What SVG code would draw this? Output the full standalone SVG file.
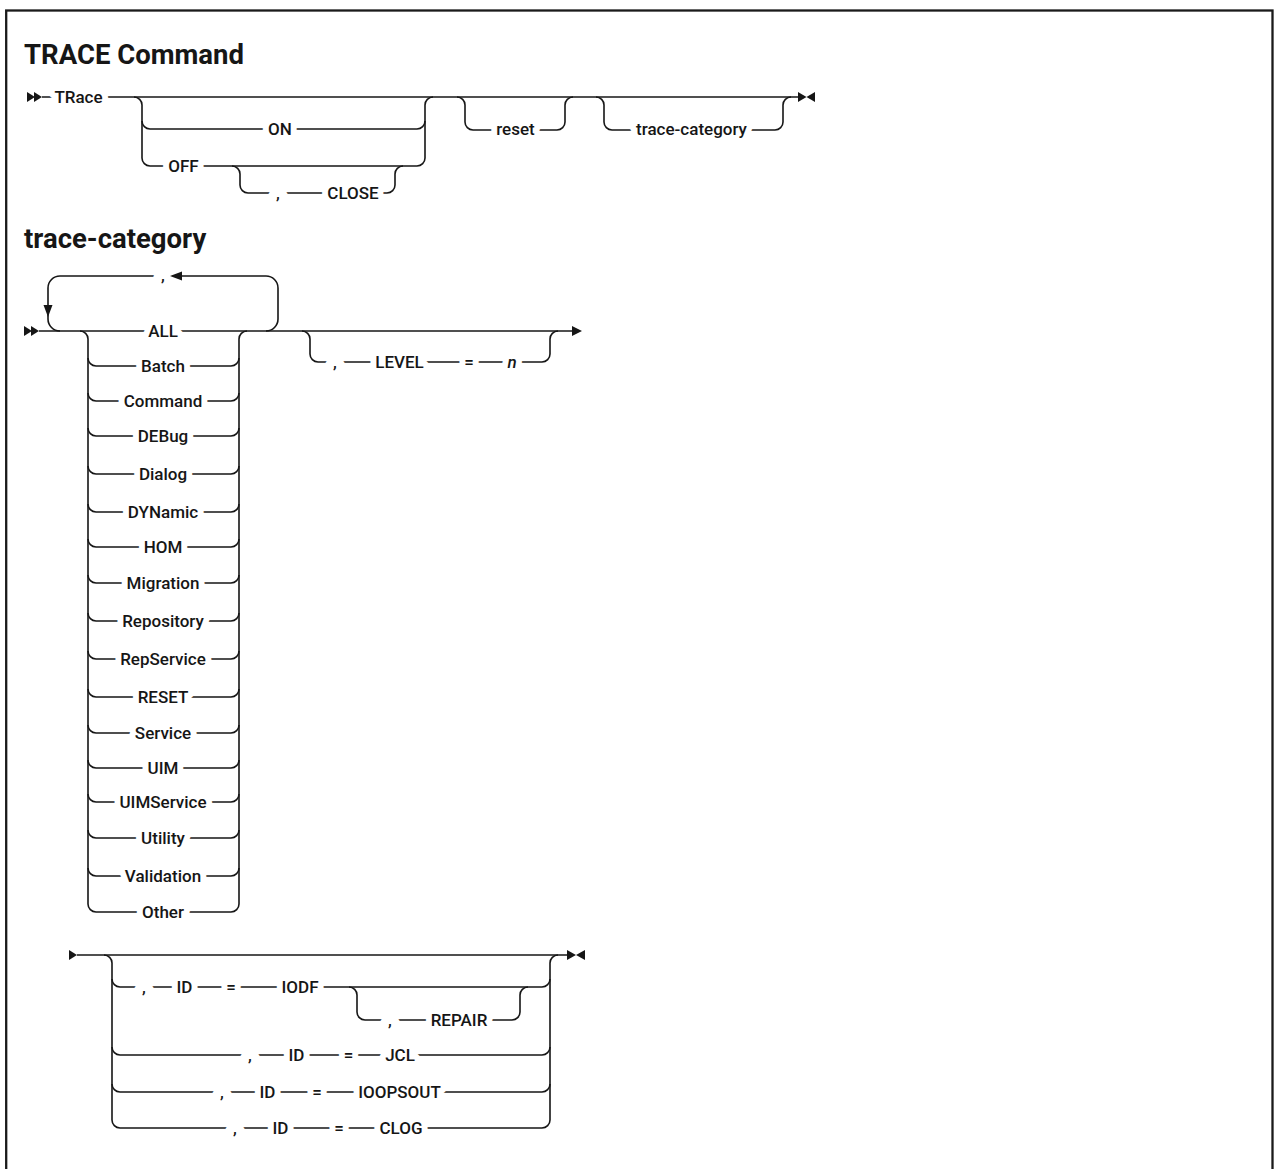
<svg xmlns="http://www.w3.org/2000/svg" width="1274" height="1169" viewBox="0 0 1274 1169">
<style>
.ln{fill:none;stroke:#161616;stroke-width:1.6}
.lb{font-family:Roboto,"Liberation Sans",sans-serif;font-weight:500;font-size:17px;fill:#161616;text-anchor:middle;stroke:#fff;stroke-width:12px;stroke-linejoin:round;paint-order:stroke}
.cm{stroke-width:18px}
.it{font-style:italic}
.tt{font-family:Roboto,"Liberation Sans",sans-serif;font-weight:700;font-size:27.5px;fill:#161616}
.mk{fill:#161616;stroke:none}
</style>
<rect x="6.2" y="10.5" width="1266.3" height="1200" fill="#fff" stroke="#1a1a1a" stroke-width="2.3"/>
<g id="titles">
<text class="tt" x="24" y="64">TRACE Command</text>
<text class="tt" x="24" y="248">trace-category</text>
</g>
<g id="connectors">
<path class="ln" d="M42 97H798"/>
<path class="ln" d="M134 97A8 8 0 0 1 142 105V158A8 8 0 0 0 150 166H417A8 8 0 0 0 425 158V105A8 8 0 0 1 433 97"/>
<path class="ln" d="M142 121A8 8 0 0 0 150 129H417A8 8 0 0 0 425 121"/>
<path class="ln" d="M232 166A8 8 0 0 1 240 174V185A8 8 0 0 0 248 193H387A8 8 0 0 0 395 185V174A8 8 0 0 1 403 166"/>
<path class="ln" d="M457 97A8 8 0 0 1 465 105V122A8 8 0 0 0 473 130H557A8 8 0 0 0 565 122V105A8 8 0 0 1 573 97"/>
<path class="ln" d="M596 97A8 8 0 0 1 604 105V122A8 8 0 0 0 612 130H775A8 8 0 0 0 783 122V105A8 8 0 0 1 791 97"/>
<path class="ln" d="M39 331H572"/>
<path class="ln" d="M266 331A12 12 0 0 0 278 319V288A12 12 0 0 0 266 276H60A12 12 0 0 0 48 288V319A12 12 0 0 0 60 331"/>
<path class="ln" d="M80 331A8 8 0 0 1 88 339V904A8 8 0 0 0 96 912H231A8 8 0 0 0 239 904V339A8 8 0 0 1 247 331"/>
<path class="ln" d="M88 358A8 8 0 0 0 96 366H231A8 8 0 0 0 239 358"/>
<path class="ln" d="M88 393A8 8 0 0 0 96 401H231A8 8 0 0 0 239 393"/>
<path class="ln" d="M88 428A8 8 0 0 0 96 436H231A8 8 0 0 0 239 428"/>
<path class="ln" d="M88 466A8 8 0 0 0 96 474H231A8 8 0 0 0 239 466"/>
<path class="ln" d="M88 504A8 8 0 0 0 96 512H231A8 8 0 0 0 239 504"/>
<path class="ln" d="M88 539A8 8 0 0 0 96 547H231A8 8 0 0 0 239 539"/>
<path class="ln" d="M88 575A8 8 0 0 0 96 583H231A8 8 0 0 0 239 575"/>
<path class="ln" d="M88 613A8 8 0 0 0 96 621H231A8 8 0 0 0 239 613"/>
<path class="ln" d="M88 651A8 8 0 0 0 96 659H231A8 8 0 0 0 239 651"/>
<path class="ln" d="M88 689A8 8 0 0 0 96 697H231A8 8 0 0 0 239 689"/>
<path class="ln" d="M88 725A8 8 0 0 0 96 733H231A8 8 0 0 0 239 725"/>
<path class="ln" d="M88 760A8 8 0 0 0 96 768H231A8 8 0 0 0 239 760"/>
<path class="ln" d="M88 794A8 8 0 0 0 96 802H231A8 8 0 0 0 239 794"/>
<path class="ln" d="M88 830A8 8 0 0 0 96 838H231A8 8 0 0 0 239 830"/>
<path class="ln" d="M88 868A8 8 0 0 0 96 876H231A8 8 0 0 0 239 868"/>
<path class="ln" d="M302 331A8 8 0 0 1 310 339V354A8 8 0 0 0 318 362H542A8 8 0 0 0 550 354V339A8 8 0 0 1 558 331"/>
<path class="ln" d="M77 955H567"/>
<path class="ln" d="M104 955A8 8 0 0 1 112 963V1120A8 8 0 0 0 120 1128H542A8 8 0 0 0 550 1120V963A8 8 0 0 1 558 955"/>
<path class="ln" d="M112 979A8 8 0 0 0 120 987H542A8 8 0 0 0 550 979"/>
<path class="ln" d="M349 987A8 8 0 0 1 357 995V1012A8 8 0 0 0 365 1020H512A8 8 0 0 0 520 1012V995A8 8 0 0 1 528 987"/>
<path class="ln" d="M112 1047A8 8 0 0 0 120 1055H542A8 8 0 0 0 550 1047"/>
<path class="ln" d="M112 1084A8 8 0 0 0 120 1092H542A8 8 0 0 0 550 1084"/>
</g>
<g id="n-trace"><text class="lb" x="78.5" y="103">TRace</text></g>
<g id="n-on"><text class="lb" x="280" y="135">ON</text></g>
<g id="n-off"><text class="lb" x="183.5" y="172">OFF</text></g>
<g id="n-close"><text class="lb cm" x="278" y="199">,</text><text class="lb" x="353" y="199">CLOSE</text></g>
<g id="n-reset"><text class="lb" x="515.5" y="135">reset</text></g>
<g id="n-tracecat"><text class="lb" x="691.5" y="135">trace-category</text></g>
<g id="n-repsep"><text class="lb cm" x="163" y="281">,</text></g>
<g id="n-all"><text class="lb" x="163" y="337">ALL</text></g>
<g id="n-batch"><text class="lb" x="163" y="372">Batch</text></g>
<g id="n-command"><text class="lb" x="163" y="407">Command</text></g>
<g id="n-debug"><text class="lb" x="163" y="442">DEBug</text></g>
<g id="n-dialog"><text class="lb" x="163" y="480">Dialog</text></g>
<g id="n-dynamic"><text class="lb" x="163" y="518">DYNamic</text></g>
<g id="n-hom"><text class="lb" x="163" y="553">HOM</text></g>
<g id="n-migration"><text class="lb" x="163" y="589">Migration</text></g>
<g id="n-repository"><text class="lb" x="163" y="627">Repository</text></g>
<g id="n-repservice"><text class="lb" x="163" y="665">RepService</text></g>
<g id="n-reset2"><text class="lb" x="163" y="703">RESET</text></g>
<g id="n-service"><text class="lb" x="163" y="739">Service</text></g>
<g id="n-uim"><text class="lb" x="163" y="774">UIM</text></g>
<g id="n-uimservice"><text class="lb" x="163" y="808">UIMService</text></g>
<g id="n-utility"><text class="lb" x="163" y="844">Utility</text></g>
<g id="n-validation"><text class="lb" x="163" y="882">Validation</text></g>
<g id="n-other"><text class="lb" x="163" y="918">Other</text></g>
<g id="n-level"><text class="lb cm" x="335" y="368">,</text><text class="lb" x="399.5" y="368">LEVEL</text><text class="lb" x="469" y="368">=</text><text class="lb it" x="512" y="368">n</text></g>
<g id="n-iodf"><text class="lb cm" x="144" y="993">,</text><text class="lb" x="184.5" y="993">ID</text><text class="lb" x="231" y="993">=</text><text class="lb" x="300" y="993">IODF</text></g>
<g id="n-repair"><text class="lb cm" x="390" y="1026">,</text><text class="lb" x="459" y="1026">REPAIR</text></g>
<g id="n-jcl"><text class="lb cm" x="250" y="1061">,</text><text class="lb" x="296.5" y="1061">ID</text><text class="lb" x="348.5" y="1061">=</text><text class="lb" x="400" y="1061">JCL</text></g>
<g id="n-ioopsout"><text class="lb cm" x="222" y="1098">,</text><text class="lb" x="267.5" y="1098">ID</text><text class="lb" x="317" y="1098">=</text><text class="lb" x="399.5" y="1098">IOOPSOUT</text></g>
<g id="n-clog"><text class="lb cm" x="235" y="1134">,</text><text class="lb" x="280.5" y="1134">ID</text><text class="lb" x="339" y="1134">=</text><text class="lb" x="401" y="1134">CLOG</text></g>
<g id="markers">
<polygon class="mk" points="27,92 35,97 27,102"/>
<polygon class="mk" points="34,92 42,97 34,102"/>
<polygon class="mk" points="798,92 806.5,97 798,102"/>
<polygon class="mk" points="815,92 806.5,97 815,102"/>
<polygon class="mk" points="24,326 32,331 24,336"/>
<polygon class="mk" points="31,326 39,331 31,336"/>
<polygon class="mk" points="170,276 182,271.5 182,280.5"/>
<polygon class="mk" points="48,317 43.5,305 52.5,305"/>
<polygon class="mk" points="572,326 582,331 572,336"/>
<polygon class="mk" points="69,950 77,955 69,960"/>
<polygon class="mk" points="567,950 576,955 567,960"/>
<polygon class="mk" points="585,950 576,955 585,960"/>
</g>
</svg>
